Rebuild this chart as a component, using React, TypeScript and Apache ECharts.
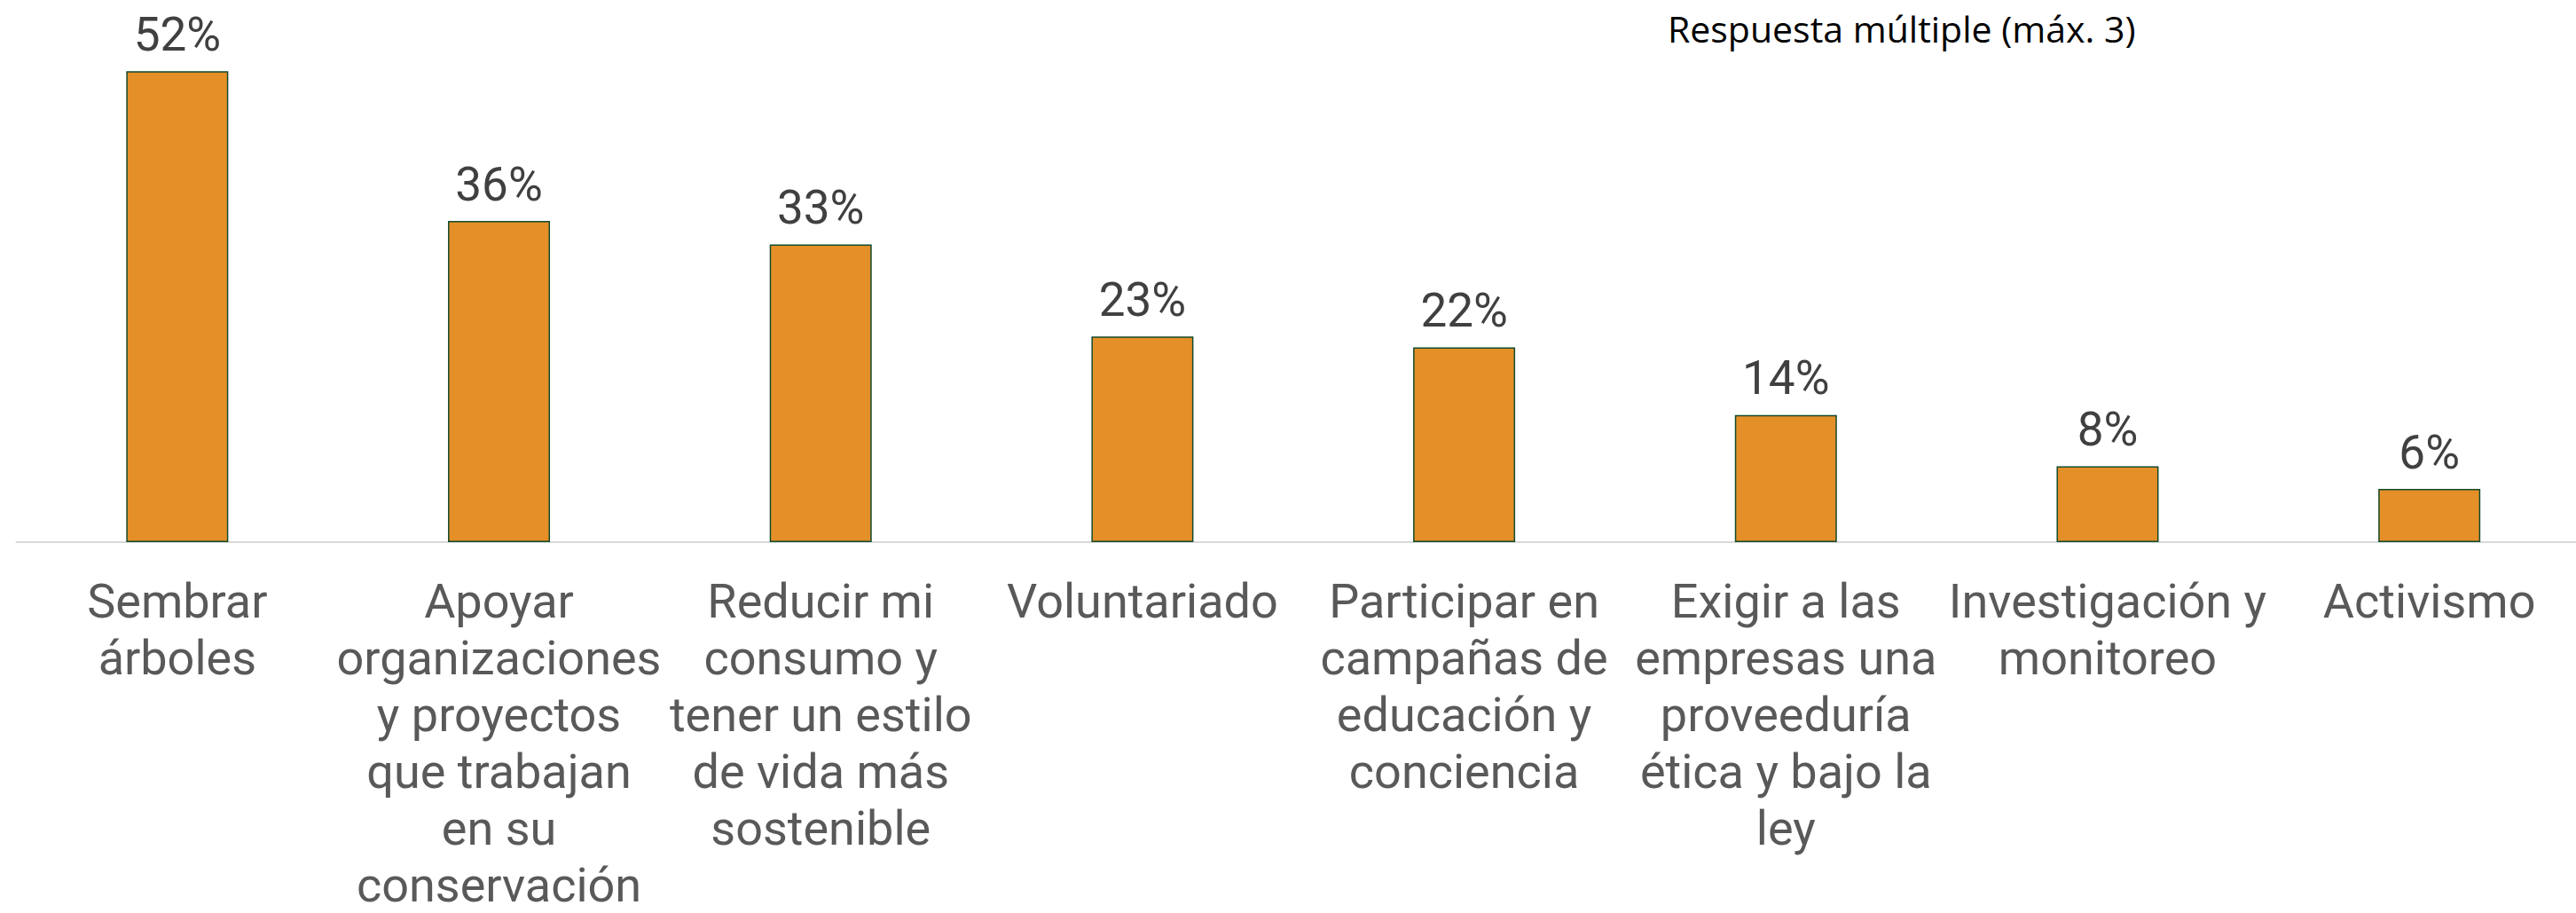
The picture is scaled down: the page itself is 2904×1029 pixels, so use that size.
import React, { useEffect, useRef } from "react";
import * as echarts from "echarts";

const categories: string[] = [
  "Sembrar\nárboles",
  "Apoyar\norganizaciones\ny proyectos\nque trabajan\nen su\nconservación",
  "Reducir mi\nconsumo y\ntener un estilo\nde vida más\nsostenible",
  "Voluntariado",
  "Participar en\ncampañas de\neducación y\nconciencia",
  "Exigir a las\nempresas una\nproveeduría\nética y bajo la\nley",
  "Investigación y\nmonitoreo",
  "Activismo",
];

const values: number[] = [52.2, 35.6, 33.0, 22.8, 21.6, 14.1, 8.4, 5.9];

const noteText = "Respuesta múltiple (máx. 3)";

export default function App() {
  const ref = useRef<HTMLDivElement>(null);

  useEffect(() => {
    document.body.style.overflow = "hidden";
    if (!ref.current) return;
    const chart = echarts.init(ref.current, undefined, { renderer: "svg" });
    chart.setOption({
      animation: false,
      backgroundColor: "#ffffff",
      grid: { left: 18.5, width: 2901.5, top: 1, height: 615, containLabel: false },
      xAxis: {
        type: "category",
        data: categories,
        axisLine: { show: true, lineStyle: { color: "#d9d9d9", width: 2 } },
        axisTick: { show: false },
        axisLabel: {
          interval: 0,
          hideOverlap: false,
          color: "#595959",
          fontFamily: "Roboto",
          fontSize: 54,
          lineHeight: 64,
          margin: 34,
          align: "center",
        },
      },
      yAxis: {
        type: "value",
        min: 0,
        max: 60,
        show: false,
        splitLine: { show: false },
      },
      series: [
        {
          type: "bar",
          data: values,
          barWidth: 115,
          itemStyle: {
            color: "#e48f27",
            borderColor: "#134a2c",
            borderWidth: 1.5,
          },
          label: {
            show: true,
            position: "top",
            distance: 15,
            color: "#404040",
            fontFamily: "Roboto",
            fontSize: 53,
            formatter: (p: any) => Math.round(p.value) + "%",
          },
        },
      ],
      graphic: [
        {
          type: "text",
          left: 1880,
          top: 10,
          style: {
            text: noteText,
            fontFamily: "Open Sans",
            fontSize: 41,
            lineHeight: 44,
            fill: "#000000",
          },
        },
      ],
    });
    return () => chart.dispose();
  }, []);

  return (
    <div
      ref={ref}
      style={{ position: "fixed", left: 0, top: 0, width: 2920, height: 1029 }}
    />
  );
}
